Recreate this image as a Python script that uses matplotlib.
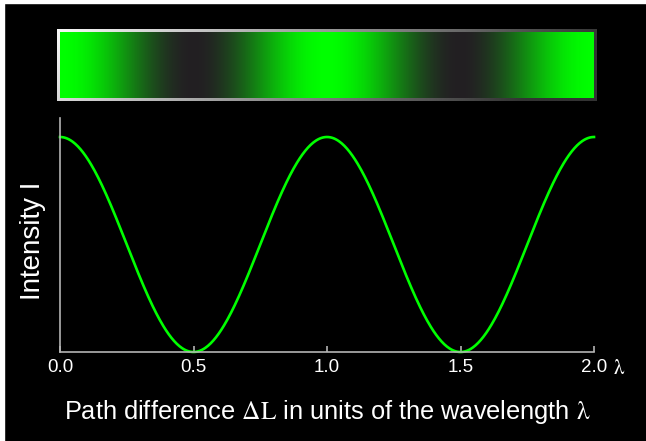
import numpy as np
import matplotlib.pyplot as plt
from matplotlib.patches import Rectangle

plt.rcParams['font.family'] = ['Liberation Sans', 'DejaVu Sans']
plt.rcParams['mathtext.fontset'] = 'stix'

# data
x_ticks = [0.0, 0.5, 1.0, 1.5, 2.0]
x_ticklabels = ['0.0', '0.5', '1.0', '1.5', '2.0']
x_min, x_max = 0.0, 2.0
bright = np.array([0, 255, 0]) / 255
dark = np.array([35, 31, 35]) / 255

x = np.linspace(x_min, x_max, 600)
intensity = np.cos(np.pi * x) ** 2

W, H = 646, 441
fig = plt.figure(figsize=(W / 100, H / 100), dpi=100, facecolor='black')

def box(l, t, r, b):
    return [l / W, 1 - b / H, (r - l) / W, (b - t) / H]

# white edge strips (top/left) as in the reference
fig.patches.append(Rectangle((0, 1 - 3 / H), 1, 3 / H, transform=fig.transFigure, color='white', zorder=-1))
fig.patches.append(Rectangle((0, 0), 4 / W, 1, transform=fig.transFigure, color='white', zorder=-1))

# bevelled border (gray gradient behind the strip)
ax_frame = fig.add_axes(box(57, 29, 597, 101))
fx, fy = np.meshgrid(np.linspace(0, 1, 300), np.linspace(0, 1, 20))
shade = np.clip(0.97 - 0.75 * fx - 0.12 * fy, 0.2, 1)
ax_frame.imshow(shade, cmap='gray', vmin=0, vmax=1, aspect='auto', interpolation='bilinear')
ax_frame.axis('off')

# gradient strip
ax_bar = fig.add_axes(box(60, 32, 594, 98))
cols = intensity[None, :, None] * bright + (1 - intensity[None, :, None]) * dark
ax_bar.imshow(cols, aspect='auto', extent=[x_min, x_max, 0, 1], interpolation='bilinear')
ax_bar.set_xlim(x_min, x_max)
ax_bar.set_ylim(0, 1)
ax_bar.axis('off')

# intensity curve
ax = fig.add_axes(box(60, 118, 594, 352))
ax.set_facecolor('black')
ax.plot(x, intensity, color='#00ff00', linewidth=1.9, clip_on=False)
ax.set_xlim(x_min, x_max)
ax.set_ylim(0, 234 / 215)
for s in ['top', 'right']:
    ax.spines[s].set_visible(False)
for s in ['left', 'bottom']:
    ax.spines[s].set_color('#b4b4b4')
    ax.spines[s].set_linewidth(1.2)
ax.set_yticks([])
ax.set_xticks(x_ticks)
ax.set_xticklabels(x_ticklabels)
ax.tick_params(axis='x', colors='#b4b4b4', length=4, width=1.2, direction='in',
               labelcolor='white', labelsize=13.5, pad=5)
ax.annotate(r'$\mathrm{\lambda}$', xy=(2.0, 0), xytext=(13.5, -16), textcoords='offset points',
            color='white', fontsize=15, ha='left', va='baseline')
ax.set_ylabel('Intensity I', color='white', fontsize=20)
ax.yaxis.set_label_coords(-0.026, 0.474)
ax.set_xlabel(r'Path difference $\mathrm{\Delta L}$ in units of the wavelength $\mathrm{\lambda}$',
              color='white', fontsize=18.3, labelpad=16)

fig.savefig('out.png', dpi=100, facecolor='black')
